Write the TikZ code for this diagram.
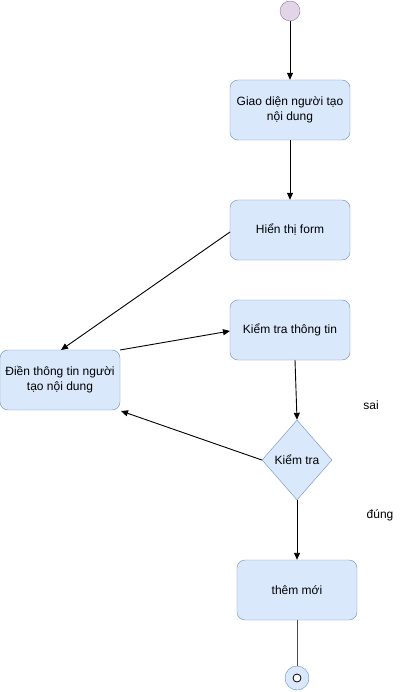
\documentclass[tikz,border=0pt]{standalone}
\usepackage{fontspec}
\setmainfont{Liberation Sans}
\usetikzlibrary{shapes.geometric,arrows.meta}
\definecolor{bfill}{HTML}{DAE8FC}
\definecolor{bdraw}{HTML}{6C8EBF}
\definecolor{pfill}{HTML}{E1D5E7}
\definecolor{pdraw}{HTML}{9673A6}
\tikzset{
  box/.style={draw=bdraw,fill=bfill,rounded corners=8pt,minimum width=120pt,minimum height=60pt,align=center,font=\fontsize{12pt}{15pt}\selectfont,inner sep=0pt},
  dec/.style={draw=bdraw,fill=bfill,diamond,minimum width=70pt,minimum height=80pt,inner sep=0pt,font=\fontsize{12pt}{15pt}\selectfont},
  lbl/.style={font=\fontsize{12pt}{15pt}\selectfont,inner sep=0pt},
  arr/.style={-{Triangle[length=7pt,width=6pt]},line width=0.9pt,black},
}
\begin{document}
\begin{tikzpicture}[x=1pt,y=-1pt]
\useasboundingbox (0,0) rectangle (407,692);
\node[circle,draw=pdraw,fill=pfill,minimum size=20pt,inner sep=0pt] (start) at (290,11) {};
\node[box] (b1) at (290,110) {Giao diện người tạo\\nội dung};
\node[box] (b2) at (290,230) {Hiển thị form};
\node[box] (b3) at (290,330) {Kiểm tra thông tin};
\node[box] (b4) at (60,380) {Điền thông tin người\\tạo nội dung};
\node[dec] (d) at (297,460) {Kiểm tra};
\node[box] (b5) at (297,590) {thêm mới};
\node[circle,draw=bdraw,fill=bfill,minimum size=24pt,inner sep=0pt] (end) at (297,678) {};
\node[circle,draw=black,fill=white,minimum size=8pt,inner sep=0pt,line width=0.8pt] (endin) at (297,678) {};
\node[lbl] (sai) at (371,405) {sai};
\node[lbl] (dung) at (380,515) {đúng};
\coordinate (b2w) at (230,232);
\coordinate (b4n) at (61,350);
\coordinate (b4ne) at (120,350);
\coordinate (b3w) at (230,331);
\coordinate (b3s) at (295,360);
\coordinate (b4se) at (121,411);
\draw[arr] (start) -- (b1);
\draw[arr] (b1) -- (b2);
\draw[arr] (b2w) -- (b4n);
\draw[arr] (b4ne) -- (b3w);
\draw[arr] (b3s) -- (d.north);
\draw[arr] (d.west) -- (b4se);
\draw[arr] (d.south) -- (b5.north);
\draw[line width=0.9pt,black!70] (b5.south) -- (end.north);
\end{tikzpicture}
\end{document}
